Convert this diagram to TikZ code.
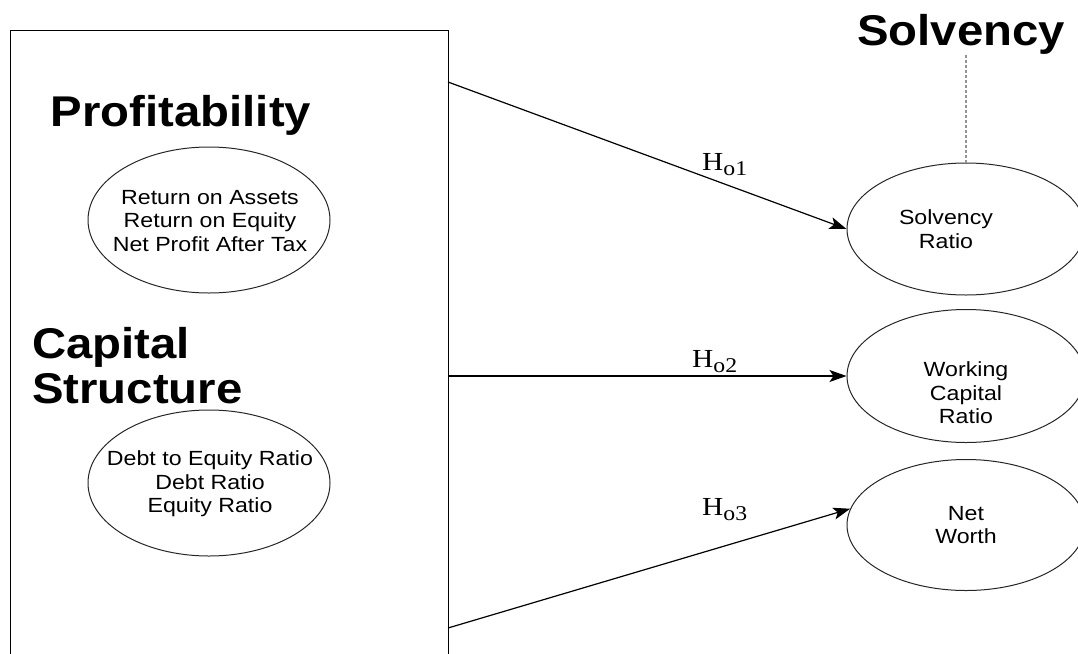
\documentclass[tikz,border=0pt]{standalone}
\usepackage{fontspec}
\usepackage{graphicx}
\setmainfont{Liberation Sans}
\newfontfamily\serifont{Liberation Serif}
\usetikzlibrary{shapes.geometric,arrows.meta}
\newcommand{\wx}[1]{\scalebox{1.13}[1]{#1}}
\newcommand{\wh}[1]{\scalebox{1.1}[1]{#1}}
\newcommand{\hsub}[1]{H\raisebox{-5pt}{\fontsize{21}{21}\selectfont #1}}
\begin{document}
\begin{tikzpicture}[x=1pt,y=-1pt,
  heading/.style={font=\fontsize{43}{43}\selectfont\bfseries, inner sep=0},
  oval/.style={draw=black!85, ellipse, line width=1pt, inner sep=0},
  txt/.style={align=center, inner sep=0, font=\fontsize{20.5}{23.5}\selectfont},
  link/.style={line width=1.2pt, -{Stealth[length=17pt,width=12pt,inset=4pt]}},
  hyp/.style={font=\serifont\fontsize{26}{26}\selectfont, inner sep=0, anchor=base west},
  dotline/.style={draw=gray!85, line width=2.4pt, dash pattern=on 2.5pt off 2.5pt}]
\clip (0,0) rectangle (1078,653);
\useasboundingbox (0,0) rectangle (1078,653);
% main box
\node[draw, line width=1.2pt, minimum width=438pt, minimum height=660pt, anchor=north west, inner sep=0] (box) at (10,30) {};
% headings
\node[heading, anchor=base] (prof) at (181,126) {\wh{Profitability}};
\node[heading, anchor=base west] (cap) at (32,358) {\wh{Capital}};
\node[heading, anchor=base west] (struc) at (32,403) {\wh{Structure}};
\node[heading, anchor=base] (solv) at (961,45) {\wh{Solvency}};
% inner ovals
\node[oval, minimum width=242pt, minimum height=146pt] (po) at (209,220) {};
\node[txt] (pot) at (210,221) {\wx{Return on Assets}\\\wx{Return on Equity}\\\wx{Net Profit After Tax}};
\node[oval, minimum width=242pt, minimum height=146pt] (co) at (209,483) {};
\node[txt] (cot) at (210,484) {\wx{Debt to Equity Ratio}\\\wx{Debt Ratio}\\\wx{Equity Ratio}};
% right ovals
\node[oval, minimum width=238pt, minimum height=132pt] (sr) at (966,229) {};
\node[oval, minimum width=238pt, minimum height=133pt] (wc) at (966,376) {};
\node[oval, minimum width=238pt, minimum height=131pt] (nw) at (966,525) {};
\node[txt] (srt) at (946,229) {\wx{Solvency}\\\wx{Ratio}};
\node[txt] (wct) at (966,393) {\wx{Working}\\\wx{Capital}\\\wx{Ratio}};
\node[txt] (nwt) at (966,525) {\wx{Net}\\\wx{Worth}};
% dotted link
\draw[dotline] (sr.north) -- (sr.north |- solv.south);
% arrows
\coordinate (s1) at (448,82);
\coordinate (s2) at (448,376);
\coordinate (s3) at (448,628);
\draw[link] (s1) -- (sr.west);
\draw[link] (s2) -- (wc.west);
\draw[link] (s3) -- (nw.172);
% hypothesis labels
\node[hyp] (h1) at (702,170) {\wx{\hsub{o1}}};
\node[hyp] (h2) at (692,367) {\wx{\hsub{o2}}};
\node[hyp] (h3) at (702,515) {\wx{\hsub{o3}}};
\end{tikzpicture}
\end{document}
